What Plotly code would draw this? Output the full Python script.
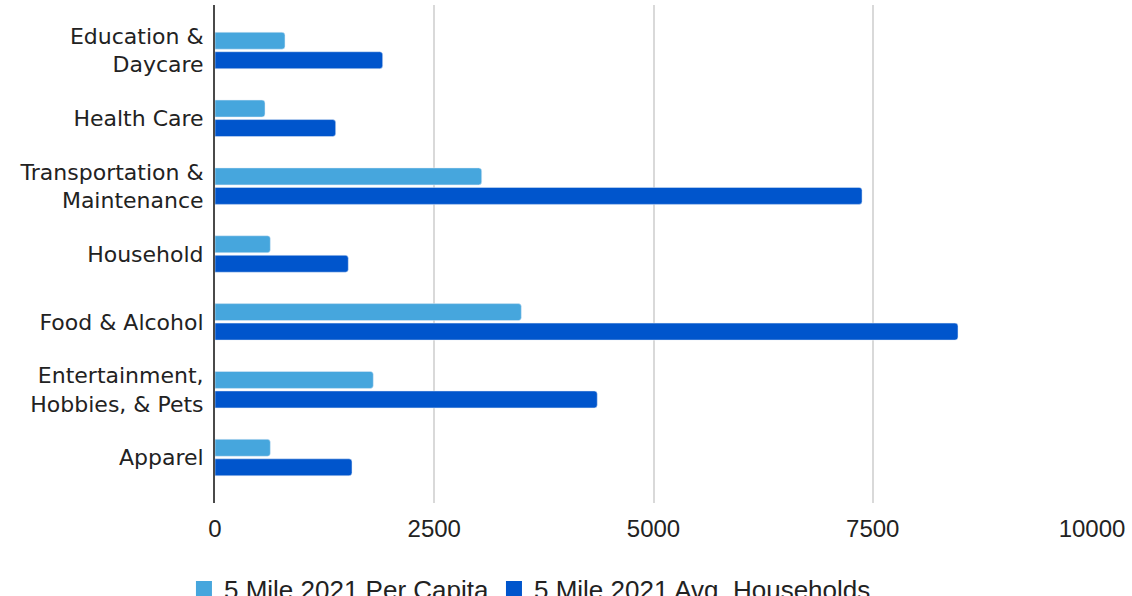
import plotly.graph_objects as go

categories = [
    "Education &<br>Daycare",
    "Health Care",
    "Transportation &<br>Maintenance",
    "Household",
    "Food & Alcohol",
    "Entertainment,<br>Hobbies, & Pets",
    "Apparel",
]
per_capita = [798, 570, 3041, 631, 3493, 1805, 631]
avg_households = [1912, 1376, 7378, 1520, 8472, 4359, 1562]
x_ticks = [0, 2500, 5000, 7500, 10000]
series_names = ["5 Mile 2021 Per Capita", "5 Mile 2021 Avg. Households"]

LIGHT = "#46A6DD"
DARK = "#0055CC"

fig = go.Figure()
for name, values, color in zip(series_names, [per_capita, avg_households], [LIGHT, DARK]):
    fig.add_trace(go.Bar(
        y=categories, x=values, orientation="h",
        name=name, marker_color=color, showlegend=False,
        legendgroup=name,
    ))
# legend keys as larger square swatches
for name, color in zip(series_names, [LIGHT, DARK]):
    fig.add_trace(go.Scatter(
        x=[None], y=[None], mode="markers", name=name, legendgroup=name,
        marker=dict(symbol="square", size=16, color=color),
    ))

fig.update_layout(
    width=1132, height=596,
    margin=dict(l=215, r=40, t=5, b=93),
    paper_bgcolor="white", plot_bgcolor="white",
    barmode="group", bargap=0.425, bargroupgap=0.13,
    barcornerradius=3,
    legend=dict(
        orientation="h", xref="container", yref="container",
        x=0.1625, xanchor="left", y=0.0117, yanchor="middle",
        itemwidth=30,
        font=dict(family="Liberation Sans, Arial", size=26, color="#222"),
    ),
)
fig.update_xaxes(
    range=[0, 10000], tickvals=x_ticks, ticktext=[str(v) for v in x_ticks],
    showgrid=True, gridcolor="#D9D9D9", gridwidth=2,
    zeroline=False, showline=False,
    ticks="outside", ticklen=4, tickcolor="rgba(0,0,0,0)",
    tickfont=dict(family="Liberation Sans, Arial", size=24, color="#222"),
)
fig.update_yaxes(
    type="category", range=[6.67, -0.67],
    showgrid=False, showline=True, linecolor="#4A4A4A", linewidth=2,
    ticks="outside", ticklen=5, tickcolor="rgba(0,0,0,0)",
    tickfont=dict(family="DejaVu Sans", size=22, color="#222"),
)

fig.write_html("out.html")
